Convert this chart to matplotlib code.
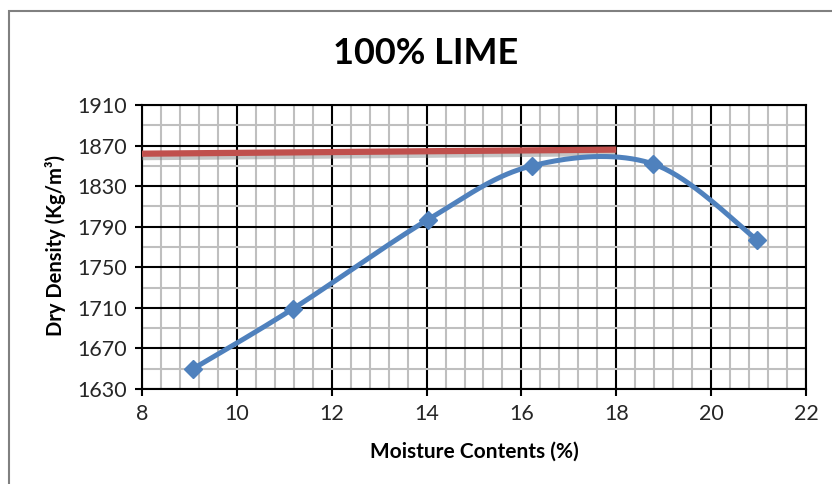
import numpy as np
import matplotlib
matplotlib.use("Agg")
import matplotlib.pyplot as plt
from matplotlib.patches import Rectangle
from matplotlib.ticker import MultipleLocator
import matplotlib.patheffects as pe

# data
moisture = [9.08, 11.18, 14.03, 16.22, 18.77, 20.97]
density = [1650, 1709, 1797, 1850, 1852, 1777]
mdd_x = [8, 18]
mdd_y = [1862, 1866]
title = "100% LIME"
xlabel = "Moisture Contents (%)"
ylabel = "Dry Density (Kg/m³)"
xticks = [8, 10, 12, 14, 16, 18, 20, 22]
yticks = [1630, 1670, 1710, 1750, 1790, 1830, 1870, 1910]

plt.rcParams['font.family'] = ['Lato', 'DejaVu Sans']

fig = plt.figure(figsize=(8.32, 4.84), dpi=100)
fig.patches.append(Rectangle((9/832, -0.5), 2.0, 1 - 11/484 + 0.5, transform=fig.transFigure,
                             fill=False, edgecolor='#808080', linewidth=1.5))
ax = fig.add_axes([142/832, 1 - 389/484, (806-142)/832, (389-105)/484])
ax.set_xlim(8, 22)
ax.set_ylim(1630, 1910)
ax.set_xticks(xticks)
ax.set_yticks(yticks)
ax.xaxis.set_minor_locator(MultipleLocator(0.4))
ax.yaxis.set_minor_locator(MultipleLocator(20, offset=10))
ax.grid(which='minor', color='#BFBFBF', linewidth=1.5, zorder=0)
ax.grid(which='major', color='black', linewidth=1.5, zorder=0)
ax.set_axisbelow(True)
for s in ax.spines.values():
    s.set_color('black')
    s.set_linewidth(1.5)
ax.tick_params(which='major', direction='out', length=5, width=1.5, color='black',
               labelsize=15.5, labelcolor='#262626', pad=6)
ax.tick_params(which='minor', length=0)

# Excel-style smoothed line (Catmull-Rom Bezier) computed in display space
fig.canvas.draw()
pts = ax.transData.transform(np.column_stack([moisture, density]))
n = len(pts)
curve = []
for i in range(n - 1):
    p0 = pts[i - 1] if i > 0 else pts[i]
    p1 = pts[i]
    p2 = pts[i + 1]
    p3 = pts[i + 2] if i + 2 < n else pts[i + 1]
    c1 = p1 + (p2 - p0) / 6
    c2 = p2 - (p3 - p1) / 6
    t = np.linspace(0, 1, 40)[:, None]
    seg = (1-t)**3*p1 + 3*(1-t)**2*t*c1 + 3*(1-t)*t**2*c2 + t**3*p2
    curve.append(seg if i == 0 else seg[1:])
curve = ax.transData.inverted().transform(np.vstack(curve))

ax.plot(mdd_x, mdd_y, color='#C0504D', linewidth=4.5, solid_capstyle='butt', zorder=3,
        path_effects=[pe.SimpleLineShadow(offset=(0, -2.5), shadow_color='gray', alpha=0.45),
                      pe.Normal()])
ax.plot(curve[:, 0], curve[:, 1], color='#4F81BD', linewidth=3.6, zorder=4)
ax.plot(moisture, density, linestyle='none', marker='D', markersize=9,
        color='#4F81BD', zorder=5)

fig.text(426/832, 1 - 53/484, title, ha='center', va='center', fontsize=26, fontweight='bold')
fig.text(474/832, 1 - 452/484, xlabel, ha='center', va='center', fontsize=15, fontweight='bold')
fig.text(55/832, 1 - 245/484, ylabel, ha='center', va='center', fontsize=14.5,
         fontweight='bold', rotation=90)

fig.savefig("out.png", dpi=100)
